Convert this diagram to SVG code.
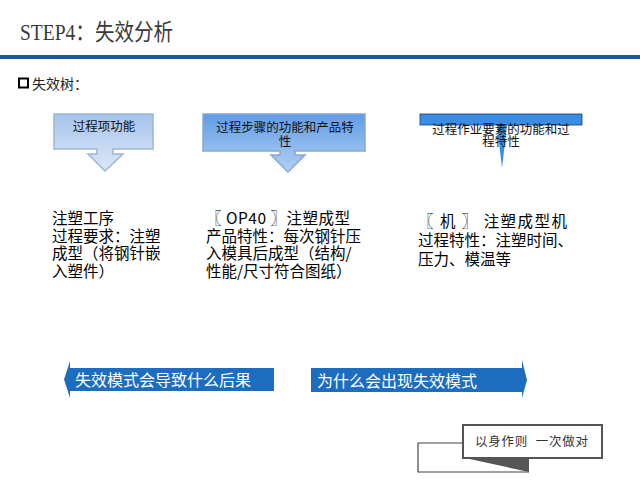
<svg xmlns="http://www.w3.org/2000/svg" width="640" height="480" viewBox="0 0 640 480">
  <style>
    .cjk { font-family: "Noto Sans CJK SC", "Noto Sans", sans-serif; }
    .serif { font-family: "Liberation Serif", "Noto Sans CJK SC", serif; }
    .body { font-family: "Noto Sans CJK SC", sans-serif; font-size: 15.5px; fill: #000; }
    .ctext { font-family: "Noto Sans CJK SC", sans-serif; font-size: 12.5px; fill: #111; text-anchor: middle; }
    .btext { font-family: "Noto Sans CJK SC", sans-serif; font-size: 16px; fill: #fff; }
    .band { fill: #1C6DBF; }
    .thin { stroke: #444; stroke-width: 1.2; fill: none; }
  </style>
  <defs>
    <linearGradient id="g1" x1="0" y1="0" x2="0" y2="1">
      <stop offset="0" stop-color="#A6C4EC"/>
      <stop offset="1" stop-color="#DCE8F7"/>
    </linearGradient>
    <linearGradient id="g2" x1="0" y1="0" x2="0" y2="1">
      <stop offset="0" stop-color="#5F9CE6"/>
      <stop offset="1" stop-color="#B4D0F3"/>
    </linearGradient>
  </defs>
  <rect width="640" height="480" fill="#fff"/>

  <g id="title">
    <text class="serif" x="20" y="40" font-size="23" fill="#3a3a3a" textLength="153" lengthAdjust="spacingAndGlyphs">STEP4：失效分析</text>
    <rect x="0" y="55" width="640" height="4" fill="#1B55A6"/>
  </g>

  <g id="subtitle">
    <rect x="19" y="78.5" width="9" height="9" fill="none" stroke="#000" stroke-width="2"/>
    <text class="cjk" x="32" y="89" font-size="14" fill="#222">失效树：</text>
  </g>

  <g id="callout1">
    <path d="M54,114 H153 V149 H113 V154 H123 L105,171 L88,154 H97 V149 H54 Z" fill="url(#g1)" stroke="#9DB5D5" stroke-width="1.5"/>
    <text class="ctext" x="104" y="131" font-size="13">过程项功能</text>
  </g>

  <g id="callout2">
    <path d="M203,114 H365 V151 H295 V155 H305 L288,172 L271,155 H280 V151 H203 Z" fill="url(#g2)" stroke="#86A8D4" stroke-width="1.5"/>
    <text class="ctext" x="285" y="132">过程步骤的功能和产品特</text>
    <text class="ctext" x="285" y="146">性</text>
  </g>

  <g id="callout3">
    <rect x="420" y="114" width="162" height="11" fill="#3A8DE4" stroke="#1a3d66" stroke-width="0.8"/>
    <polygon points="497,125 507,125 502,168" fill="#3A8DE4"/>
    <text class="ctext" x="501" y="134">过程作业要素的功能和过</text>
    <text class="ctext" x="501" y="146">程特性</text>
  </g>

  <g id="text1">
    <text class="body" x="52" y="224">注塑工序</text>
    <text class="body" x="52" y="241.5">过程要求：注塑</text>
    <text class="body" x="52" y="259">成型（将钢针嵌</text>
    <text class="body" x="52" y="276.5">入塑件）</text>
  </g>

  <g id="text2">
    <text class="body" x="206" y="224" xml:space="preserve" textLength="144" lengthAdjust="spacing">〖 OP40 〗注塑成型</text>
    <text class="body" x="206" y="241.5">产品特性：每次钢针压</text>
    <text class="body" x="206" y="259">入模具后成型（结构/</text>
    <text class="body" x="206" y="276.5">性能/尺寸符合图纸）</text>
  </g>

  <g id="text3">
    <text class="body" x="418" y="227" font-size="15" xml:space="preserve" textLength="149" lengthAdjust="spacing">〖 机 〗 注塑成型机</text>
    <text class="body" x="418" y="246" font-size="15">过程特性：注塑时间、</text>
    <text class="body" x="418" y="265" font-size="15">压力、模温等</text>
  </g>

  <g id="arrow-left">
    <path class="band" d="M70,361 L70,368 H274 V391 H70 V398 L64,379.5 Z"/>
    <text class="btext" x="75" y="386">失效模式会导致什么后果</text>
  </g>

  <g id="arrow-right">
    <path class="band" d="M311,368 H522 V360 L527,380 L522,398 V392 H311 Z"/>
    <text class="btext" x="317" y="387">为什么会出现失效模式</text>
  </g>

  <g id="motto">
    <path class="thin" d="M463,443 H418 V472 H529"/>
    <polygon points="465,458 529,458 529,472" fill="#555"/>
    <rect x="463" y="425" width="139" height="33" fill="#fff" stroke="#555" stroke-width="2"/>
    <text class="serif" x="475" y="446" font-size="12.5" fill="#333" xml:space="preserve" textLength="113" lengthAdjust="spacing">以身作则  一次做对</text>
  </g>
</svg>
